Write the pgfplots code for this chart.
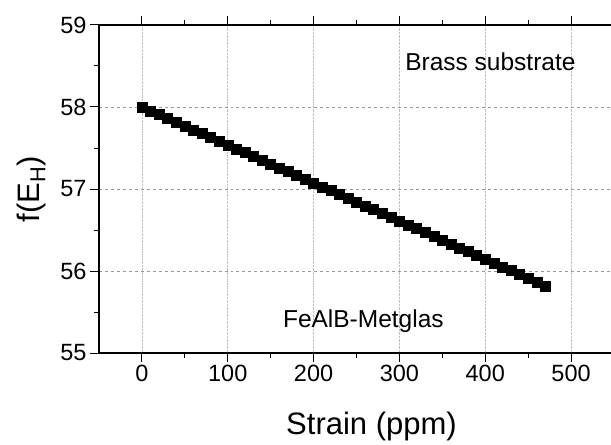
\documentclass[border=0pt]{standalone}
\usepackage{fontspec}
\setmainfont{Liberation Sans}
\usepackage{pgfplots}
\pgfplotsset{compat=1.18}
\begin{document}
\begin{tikzpicture}
\begin{axis}[
  scale only axis,
  width=515bp, height=328bp,
  at={(0,0)}, anchor=south west,
  xmin=-50, xmax=550, ymin=55, ymax=59,
  xtick={0,100,200,300,400,500},
  ytick={55,56,57,58,59},
  minor x tick num=1, minor y tick num=1,
  axis x line*=box, axis y line*=left,
  tick align=outside,
  major tick length=9bp, minor tick length=5bp,
  every tick/.style={black, line width=1pt},
  axis line style={line width=1.2pt},
  xmajorgrids, ymajorgrids,
  x grid style={densely dotted, black!25, line width=0.6pt},
  y grid style={dashed, black!40, line width=0.6pt},
  /pgf/number format/assume math mode=true,
  ticklabel style={font=\fontsize{23.5bp}{26bp}\selectfont},
  xlabel={Strain (ppm)},
  ylabel={f(E\textsubscript{H})},
  every axis x label/.style={at={(axis description cs:0.5,0)}, anchor=center, yshift=-73bp, xshift=15bp, font=\fontsize{31bp}{34bp}\selectfont},
  every axis y label/.style={at={(axis description cs:0,0.5)}, rotate=90, anchor=center, yshift=68bp, font=\fontsize{31bp}{34bp}\selectfont},
  clip=false,
]
\addplot[only marks, mark=square*, mark size=5bp, black] coordinates {
(0,58.000) (10,57.954) (20,57.907) (30,57.861) (40,57.814) (50,57.768)
(60,57.722) (70,57.675) (80,57.629) (90,57.583) (100,57.536) (110,57.490)
(120,57.443) (130,57.397) (140,57.351) (150,57.304) (160,57.258) (170,57.212)
(180,57.165) (190,57.119) (200,57.072) (210,57.026) (220,56.980) (230,56.933)
(240,56.887) (250,56.841) (260,56.794) (270,56.748) (280,56.701) (290,56.655)
(300,56.609) (310,56.562) (320,56.516) (330,56.470) (340,56.423) (350,56.377)
(360,56.330) (370,56.284) (380,56.238) (390,56.191) (400,56.145) (410,56.099)
(420,56.052) (430,56.006) (440,55.959) (450,55.913) (460,55.867) (470,55.820)
};
\node[font=\fontsize{24.5bp}{27bp}\selectfont] at (axis cs:406,58.55) {Brass substrate};
\node[font=\fontsize{24.5bp}{27bp}\selectfont] at (axis cs:258,55.39) {FeAlB-Metglas};
\end{axis}
\pgfresetboundingbox
\path (-99bp,-92bp) rectangle (512bp,353bp);
\end{tikzpicture}
\end{document}
